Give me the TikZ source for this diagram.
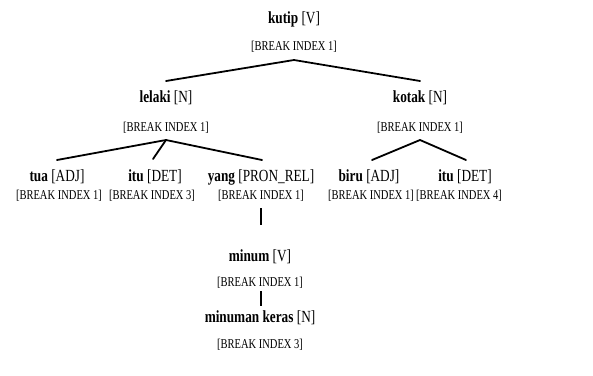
\documentclass[tikz,border=0pt]{standalone}
\usepackage{fontspec}
\setmainfont[FakeStretch=0.78]{Liberation Serif}
\begin{document}
\begin{tikzpicture}[x=1pt,y=-1pt,
  word/.style={inner sep=0pt,anchor=center,font=\fontsize{17}{17}\selectfont},
  brk/.style={inner sep=0pt,anchor=center,font=\fontsize{13.5}{13.5}\selectfont},
  branch/.style={line width=1.8pt,line cap=round},
  stem/.style={line width=1.4pt}]
\useasboundingbox (0,0) rectangle (593,375);
% tree labels: word with category, break index underneath
\node[word] (kutip) at (294,19) {\textbf{kutip} [V]};
\node[brk] (kutipB) at (294,47) {[BREAK INDEX 1]};
\node[word] (lelaki) at (166,98) {\textbf{lelaki} [N]};
\node[brk] (lelakiB) at (166,128) {[BREAK INDEX 1]};
\node[word] (kotak) at (420,98) {\textbf{kotak} [N]};
\node[brk] (kotakB) at (420,128) {[BREAK INDEX 1]};
\node[word] (tua) at (57,177) {\textbf{tua} [ADJ]};
\node[brk] (tuaB) at (59,196) {[BREAK INDEX 1]};
\node[word] (ituA) at (155,177) {\textbf{itu} [DET]};
\node[brk] (ituAB) at (152,196) {[BREAK INDEX 3]};
\node[word] (yang) at (261,177) {\textbf{yang} [PRON\_REL]};
\node[brk] (yangB) at (261,196) {[BREAK INDEX 1]};
\node[word] (biru) at (369,177) {\textbf{biru} [ADJ]};
\node[brk] (biruB) at (371,196) {[BREAK INDEX 1]};
\node[word] (ituB) at (465,177) {\textbf{itu} [DET]};
\node[brk] (ituBB) at (459,196) {[BREAK INDEX 4]};
\node[word] (minum) at (260,257) {\textbf{minum} [V]};
\node[brk] (minumB) at (260,283) {[BREAK INDEX 1]};
\node[word] (keras) at (260,318) {\textbf{minuman keras} [N]};
\node[brk] (kerasB) at (260,345) {[BREAK INDEX 3]};
% branch points and branch ends
\coordinate (kutipJ) at (294,60);
\coordinate (lelakiJ) at (166,140);
\coordinate (kotakJ) at (420,140);
\coordinate (lelakiT) at (166,81);
\coordinate (kotakT) at (420,81);
\coordinate (tuaT) at (57,160);
\coordinate (ituAT) at (153,159);
\coordinate (yangT) at (262,160);
\coordinate (biruT) at (372,160);
\coordinate (ituBT) at (466,160);
\coordinate (minumS) at (261,208);
\coordinate (minumE) at (261,225);
\coordinate (kerasS) at (261,291);
\coordinate (kerasE) at (261,306);
\draw[branch] (lelakiT) -- (kutipJ) -- (kotakT);
\draw[branch] (tuaT) -- (lelakiJ) -- (yangT);
\draw[branch] (lelakiJ) -- (ituAT);
\draw[branch] (biruT) -- (kotakJ) -- (ituBT);
\draw[stem] (minumS) -- (minumE);
\draw[stem] (kerasS) -- (kerasE);
\end{tikzpicture}
\end{document}
